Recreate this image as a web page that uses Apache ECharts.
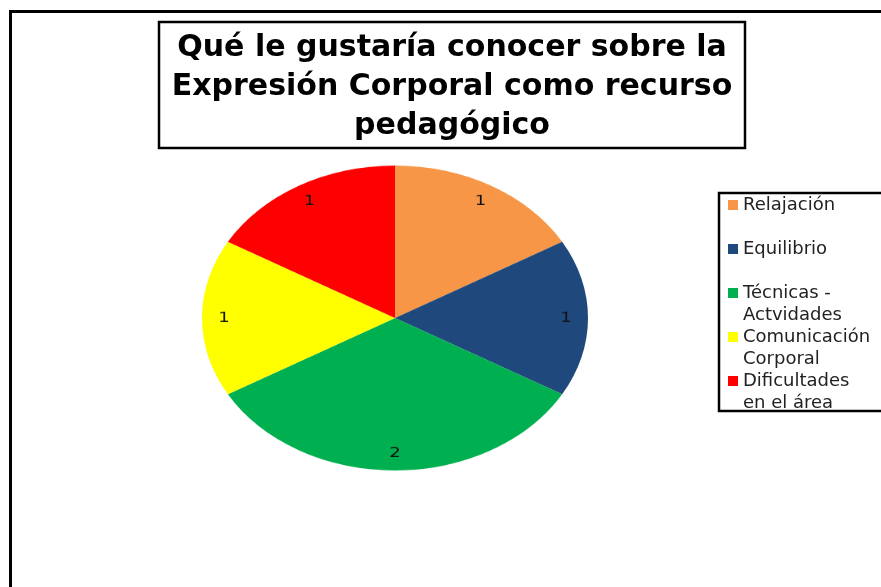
<!DOCTYPE html>
<html>
<head>
<meta charset="utf-8">
<script src="https://cdn.jsdelivr.net/npm/echarts@6/dist/echarts.min.js"></script>
<style>
  html, body { margin: 0; padding: 0; background: #fff; }
  #wrap { position: relative; width: 881px; height: 587px; overflow: hidden; }
  #main { position: absolute; left: 0; top: 0; width: 881px; height: 587px; }
  #pie {
    position: absolute; left: 195px; top: 118px; width: 400px; height: 400px;
    transform: scaleY(0.79); transform-origin: 50% 50%;
  }
</style>
</head>
<body>
<div id="wrap">
  <div id="main"></div>
  <div id="pie"></div>
</div>
<script>
var titleLines = ["Qué le gustaría conocer sobre la", "Expresión Corporal como recurso", "pedagógico"];
var categories = ["Relajación", "Equilibrio", "Técnicas - Actvidades", "Comunicación Corporal", "Dificultades en el área"];
var legendLabels = ["Relajación\n ", "Equilibrio\n ", "Técnicas -\nActvidades", "Comunicación\nCorporal", "Dificultades\nen el área"];
var values = [1, 1, 2, 1, 1];
var colors = ["#F79646", "#1F497D", "#00B050", "#FFFF00", "#FF0000"];

var pieData = categories.map(function (name, i) {
  return { name: name, value: values[i] };
});

// main chart: frame, title and legend
var mainChart = echarts.init(document.getElementById("main"));
mainChart.setOption({
  animation: false,
  color: colors,
  title: {
    text: titleLines.join("\n"),
    left: 452,
    top: 29,
    padding: 0,
    textAlign: "center",
    textStyle: {
      fontFamily: "DejaVu Sans",
      fontWeight: "bold",
      fontSize: 30,
      lineHeight: 39,
      color: "#000",
    },
  },
  legend: {
    orient: "vertical",
    left: 728,
    top: 172,
    padding: 0,
    itemGap: -22,
    itemWidth: 10,
    itemHeight: 10,
    icon: "rect",
    data: categories,
    // blank first line so the marker sits beside the first text line
    formatter: function (name) {
      return " \n" + legendLabels[categories.indexOf(name)];
    },
    textStyle: {
      fontFamily: "DejaVu Sans",
      fontSize: 18,
      lineHeight: 22,
      color: "#222",
    },
  },
  graphic: [
    {
      type: "rect",
      shape: { x: 10.5, y: 11.5, width: 900, height: 600 },
      style: { fill: "none", stroke: "#000", lineWidth: 3 },
    },
    {
      type: "rect",
      shape: { x: 159, y: 22, width: 586, height: 126 },
      style: { fill: "#fff", stroke: "#000", lineWidth: 2.5 },
    },
    {
      type: "rect",
      shape: { x: 719, y: 193, width: 200, height: 218 },
      style: { fill: "#fff", stroke: "#000", lineWidth: 2.5 },
    },
  ],
  series: [
    {
      type: "pie",
      radius: [0, 0],
      center: [-100, -100],
      silent: true,
      label: { show: false },
      data: pieData,
    },
  ],
});

// pie drawn in its own box and squashed into an ellipse
var pieChart = echarts.init(document.getElementById("pie"));
pieChart.setOption({
  animation: false,
  color: colors,
  series: [
    {
      type: "pie",
      radius: [0, 193],
      center: ["50%", "50%"],
      startAngle: 90,
      silent: true,
      label: { show: false },
      labelLine: { show: false },
      data: pieData,
    },
    {
      type: "pie",
      radius: [143, 193],
      center: ["50%", "50%"],
      startAngle: 90,
      silent: true,
      itemStyle: { color: "transparent" },
      label: {
        show: true,
        position: "inside",
        formatter: "{c}",
        fontFamily: "DejaVu Sans",
        fontSize: 18,
        color: "#111",
      },
      labelLine: { show: false },
      data: pieData,
    },
  ],
});
</script>
</body>
</html>
